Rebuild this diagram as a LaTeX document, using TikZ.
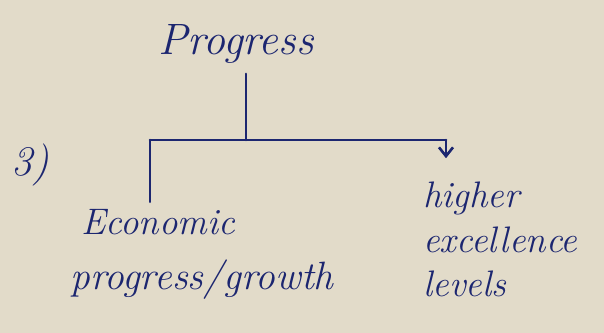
\documentclass[tikz,border=0pt]{standalone}
\usetikzlibrary{arrows.meta}

\definecolor{ink}{RGB}{28,38,112}
\definecolor{paper}{RGB}{226,219,201}

\tikzset{
	note/.style={
			x=0.02cm, y=-0.02cm,
			every node/.style={text=ink, inner sep=0pt, font=\itshape\fontsize{21}{25}\selectfont},
		},
	branch/.style={draw=ink, line width=1.5pt, line cap=round, line join=round},
	downarrow/.style={-{Straight Barb[length=5pt, width=8pt]}},
}

\begin{document}
\begin{tikzpicture}[note]
		\fill[paper] (0,0) rectangle (604,333);
		\useasboundingbox (0,0) rectangle (604,333);
		% labels
		\node[font=\itshape\fontsize{25}{30}\selectfont] (prog) at (236,44) {Progress};
		\node[font=\itshape\fontsize{24}{28}\selectfont] (num) at (30,165) {3)};
		\node (econ) at (158,222) {Economic};
		\node[font=\itshape\fontsize{22.5}{27}\selectfont] (growth) at (202,280) {progress/growth};
		\node[anchor=west] (higher) at (423,198) {higher};
		\node[anchor=west] (excel) at (423,240) {excellence};
		\node[anchor=west] (levels) at (423,284) {levels};
		% branches
		\coordinate (joint) at (246,140);
		\coordinate (lend) at (150,140);
		\coordinate (rend) at (446,140);
		\draw[branch] (joint |- prog.south) ++(0,10) -- (joint);
		\draw[branch] (lend) -- (rend);
		\draw[branch] (lend) -- ([yshift=4pt]lend |- econ.north);
		\draw[branch, downarrow] (rend) -- ([yshift=13pt]rend |- higher.north);
	\end{tikzpicture}
\end{document}
